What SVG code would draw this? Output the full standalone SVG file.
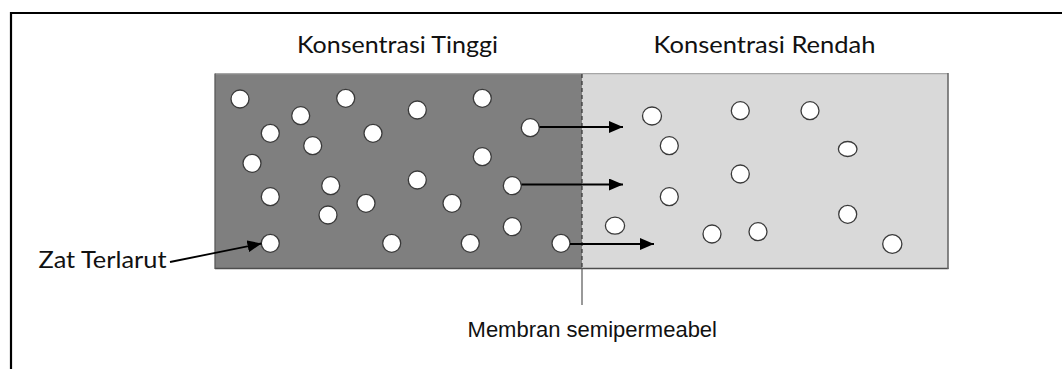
<svg xmlns="http://www.w3.org/2000/svg" width="1062" height="369" viewBox="0 0 1062 369">
<style>
.lbl{font-family:Lato,"Open Sans","Liberation Sans",sans-serif;font-size:23px;fill:#111}
.mem{font-family:"Liberation Sans",Arial,sans-serif;font-size:22px;fill:#111}
.p{fill:#fff;stroke:#3a3a3a;stroke-width:1.3}
.arr{stroke:#000;stroke-width:2;fill:none;marker-end:url(#ah)}
</style>
<defs>
<marker id="ah" markerUnits="userSpaceOnUse" markerWidth="15" markerHeight="12" refX="14" refY="6" orient="auto" viewBox="0 0 15 12">
<path d="M0,0 L14,6 L0,12 Z" fill="#000"/>
</marker>
</defs>
<rect width="1062" height="369" fill="#fff"/>
<g id="frame">
<line x1="11" y1="13" x2="1062" y2="13" stroke="#000" stroke-width="2.2"/>
<line x1="11" y1="12" x2="11" y2="369" stroke="#000" stroke-width="2.2"/>
</g>
<g id="chamber-high">
<rect x="215" y="74" width="367" height="194.5" fill="#7f7f7f"/>
</g>
<g id="chamber-low">
<rect x="582" y="74" width="366" height="194.5" fill="#d9d9d9"/>
</g>
<g id="chamber-border">
<line x1="215" y1="73.6" x2="948" y2="73.6" stroke="#a6a6a6" stroke-width="1.2"/>
<line x1="215" y1="268.5" x2="948.5" y2="268.5" stroke="#4d4d4d" stroke-width="1.5"/>
<line x1="215" y1="73.5" x2="215" y2="269" stroke="#595959" stroke-width="1.3"/>
<line x1="948" y1="73" x2="948" y2="269" stroke="#6a6a6a" stroke-width="1.6"/>
</g>
<g id="membrane">
<line x1="582" y1="74" x2="582" y2="268" stroke="#333" stroke-width="1.2" stroke-dasharray="4,3"/>
<line x1="582" y1="268" x2="582" y2="305" stroke="#555" stroke-width="1.2"/>
</g>
<g id="particles-high">
<circle class="p" cx="240" cy="99" r="9"/>
<circle class="p" cx="345.7" cy="98.3" r="9"/>
<circle class="p" cx="482.3" cy="98.3" r="9"/>
<circle class="p" cx="300.7" cy="115.7" r="9"/>
<circle class="p" cx="417.3" cy="110" r="9"/>
<circle class="p" cx="270.3" cy="133.3" r="9"/>
<circle class="p" cx="373" cy="133.3" r="9"/>
<circle class="p" cx="530.3" cy="127.7" r="9"/>
<circle class="p" cx="312.7" cy="145.7" r="9"/>
<circle class="p" cx="252" cy="163.3" r="9"/>
<circle class="p" cx="482.3" cy="156.7" r="9"/>
<circle class="p" cx="330.7" cy="185.7" r="9"/>
<circle class="p" cx="417.3" cy="180" r="9"/>
<circle class="p" cx="512.3" cy="185.7" r="9"/>
<circle class="p" cx="270.3" cy="196.7" r="9"/>
<circle class="p" cx="366" cy="203.3" r="9"/>
<circle class="p" cx="452" cy="203.3" r="9"/>
<circle class="p" cx="328" cy="215" r="9"/>
<circle class="p" cx="512.3" cy="226.7" r="9"/>
<circle class="p" cx="270.3" cy="243.3" r="9"/>
<circle class="p" cx="391.7" cy="243.3" r="9"/>
<circle class="p" cx="470.3" cy="243.3" r="9"/>
<circle class="p" cx="561" cy="243.3" r="9"/>
</g>
<g id="particles-low">
<ellipse class="p" cx="652" cy="116" rx="9.5" ry="9"/>
<circle class="p" cx="740.3" cy="110.7" r="9"/>
<circle class="p" cx="810" cy="110.7" r="9"/>
<circle class="p" cx="669.3" cy="145.7" r="9"/>
<ellipse class="p" cx="847.7" cy="149" rx="9.3" ry="7.5"/>
<circle class="p" cx="740.3" cy="174" r="9"/>
<circle class="p" cx="669.3" cy="196.7" r="9"/>
<ellipse class="p" cx="615" cy="225.7" rx="9.6" ry="8.5"/>
<circle class="p" cx="712" cy="234" r="9"/>
<circle class="p" cx="758" cy="231.7" r="9"/>
<circle class="p" cx="847.7" cy="214.3" r="9"/>
<ellipse class="p" cx="892.3" cy="244" rx="9.6" ry="9.3"/>
</g>
<g id="connectors">
<line class="arr" x1="539.5" y1="127" x2="623" y2="127"/>
<line class="arr" x1="521.5" y1="184.5" x2="623" y2="184.5"/>
<line class="arr" x1="570" y1="244" x2="654" y2="244"/>
<line class="arr" x1="170" y1="262" x2="261.5" y2="243.5" style="stroke-width:1.8"/>
</g>
<g id="label-high">
<text class="lbl" x="297" y="53.3" textLength="201" lengthAdjust="spacingAndGlyphs">Konsentrasi Tinggi</text>
</g>
<g id="label-low">
<text class="lbl" x="653.5" y="53.3" textLength="222" lengthAdjust="spacingAndGlyphs">Konsentrasi Rendah</text>
</g>
<g id="label-solute">
<text class="lbl" x="38.5" y="268.3" textLength="128" lengthAdjust="spacingAndGlyphs">Zat Terlarut</text>
</g>
<g id="label-membrane">
<text class="mem" x="717" y="337" text-anchor="end">Membran semipermeabel</text>
</g>
</svg>
